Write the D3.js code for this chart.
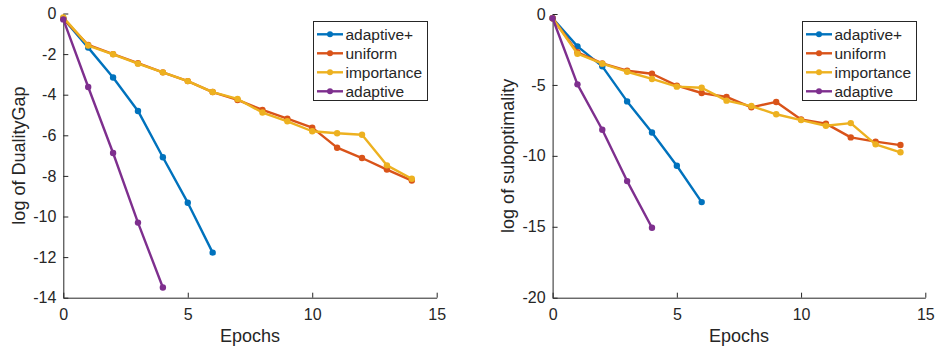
<!DOCTYPE html>
<html>
<head>
<meta charset="utf-8">
<script src="https://cdn.jsdelivr.net/npm/d3@7"></script>
<style>
  body { margin: 0; background: #fff; }
  svg text { font-family: "Liberation Sans", Arial, Helvetica, sans-serif; fill: #262626; }
</style>
</head>
<body>
<svg id="chart" width="936" height="349"></svg>
<script>
// series names + colors (matlab default order)
const seriesNames = ["adaptive+", "uniform", "importance", "adaptive"];
const seriesColors = ["#0072BD", "#D95319", "#EDB120", "#7E2F8E"];

const epochs = [0, 1, 2, 3, 4, 5, 6, 7, 8, 9, 10, 11, 12, 13, 14];
const xTicks = [0, 5, 10, 15];

// left: log of duality gap
const gapAdaptivePlus = [-0.24, -1.68, -3.15, -4.8, -7.08, -9.32, -11.78];
const gapUniform = [-0.25, -1.55, -2.0, -2.45, -2.9, -3.33, -3.87, -4.26, -4.75, -5.18, -5.62, -6.61, -7.12, -7.69, -8.23];
const gapImportance = [-0.19, -1.58, -2.01, -2.47, -2.9, -3.33, -3.87, -4.21, -4.88, -5.31, -5.8, -5.9, -5.97, -7.48, -8.14];
const gapAdaptive = [-0.29, -3.62, -6.87, -10.3, -13.5];
const gapTicks = [0, -2, -4, -6, -8, -10, -12, -14];

// right: log of suboptimality
const subAdaptivePlus = [-0.3, -2.28, -3.69, -6.16, -8.35, -10.7, -13.26];
const subUniform = [-0.3, -2.7, -3.48, -4.0, -4.21, -5.05, -5.57, -5.85, -6.58, -6.2, -7.43, -7.73, -8.7, -9.0, -9.24];
const subImportance = [-0.3, -2.8, -3.5, -4.07, -4.58, -5.12, -5.2, -6.11, -6.49, -7.07, -7.48, -7.88, -7.69, -9.19, -9.75];
const subAdaptive = [-0.3, -4.96, -8.16, -11.78, -15.07];
const subTicks = [0, -5, -10, -15, -20];

const svg = d3.select("#chart");
const ink = "#262626";

function drawPanel(opts) {
  const g = svg.append("g");
  const x = d3.scaleLinear().domain([0, 15]).range([opts.left, opts.right]);
  const y = d3.scaleLinear().domain(opts.yDomain).range([opts.bottom, opts.top]);

  // axes, ticks pointing in
  const xAxis = g.append("g")
    .attr("transform", `translate(0,${opts.bottom})`)
    .call(d3.axisBottom(x).tickValues(xTicks).tickSizeInner(-5).tickSizeOuter(0).tickPadding(11).tickFormat(d => String(d)));
  const yAxis = g.append("g")
    .attr("transform", `translate(${opts.left},0)`)
    .call(d3.axisLeft(y).tickValues(opts.yTicks).tickSizeInner(-5).tickSizeOuter(0).tickPadding(7).tickFormat(d => String(d)));
  [xAxis, yAxis].forEach(a => {
    a.selectAll("path, line").attr("stroke", ink).attr("stroke-width", 1);
    a.selectAll("text").attr("font-size", 16).attr("fill", ink)
      .style("font-family", '"Liberation Sans", Arial, sans-serif');
  });

  g.append("text")
    .attr("x", (opts.left + opts.right) / 2)
    .attr("y", 341.5)
    .attr("text-anchor", "middle")
    .attr("font-size", 18)
    .text("Epochs");

  g.append("text")
    .attr("transform", `translate(${opts.labelX},${(opts.top + opts.bottom) / 2}) rotate(-90)`)
    .attr("text-anchor", "middle")
    .attr("font-size", 18)
    .text(opts.yLabel);

  const line = d3.line().x((d, i) => x(epochs[i])).y(d => y(d));

  opts.series.forEach((vals, k) => {
    g.append("path")
      .datum(vals)
      .attr("d", line)
      .attr("fill", "none")
      .attr("stroke", seriesColors[k])
      .attr("stroke-width", 2.4)
      .attr("stroke-linejoin", "round");
    g.selectAll(null)
      .data(vals)
      .join("circle")
      .attr("cx", (d, i) => x(epochs[i]))
      .attr("cy", d => y(d))
      .attr("r", 3.2)
      .attr("fill", seriesColors[k]);
  });

  // legend
  const lg = g.append("g").attr("transform", `translate(${opts.legendX},21)`);
  lg.append("rect")
    .attr("x", 0.5).attr("y", 0.5)
    .attr("width", 114).attr("height", 79)
    .attr("fill", "#fff")
    .attr("stroke", ink)
    .attr("stroke-width", 1);
  seriesNames.forEach((name, k) => {
    const ey = 13.3 + k * 19;
    lg.append("line")
      .attr("x1", 4).attr("x2", 30)
      .attr("y1", ey).attr("y2", ey)
      .attr("stroke", seriesColors[k])
      .attr("stroke-width", 2.4);
    lg.append("circle")
      .attr("cx", 17).attr("cy", ey).attr("r", 3)
      .attr("fill", seriesColors[k]);
    lg.append("text")
      .attr("x", 32.5).attr("y", ey)
      .attr("dy", "0.35em")
      .attr("font-size", 15.5)
      .text(name);
  });
}

drawPanel({
  left: 63.3, right: 436.7, top: 13.5, bottom: 297.7,
  yDomain: [-14, 0], yTicks: gapTicks,
  yLabel: "log of DualityGap", labelX: 24.5, legendX: 313,
  series: [gapAdaptivePlus, gapUniform, gapImportance, gapAdaptive]
});

drawPanel({
  left: 552.6, right: 925.3, top: 14, bottom: 297.7,
  yDomain: [-20, 0], yTicks: subTicks,
  yLabel: "log of suboptimality", labelX: 514, legendX: 802,
  series: [subAdaptivePlus, subUniform, subImportance, subAdaptive]
});
</script>
</body>
</html>
